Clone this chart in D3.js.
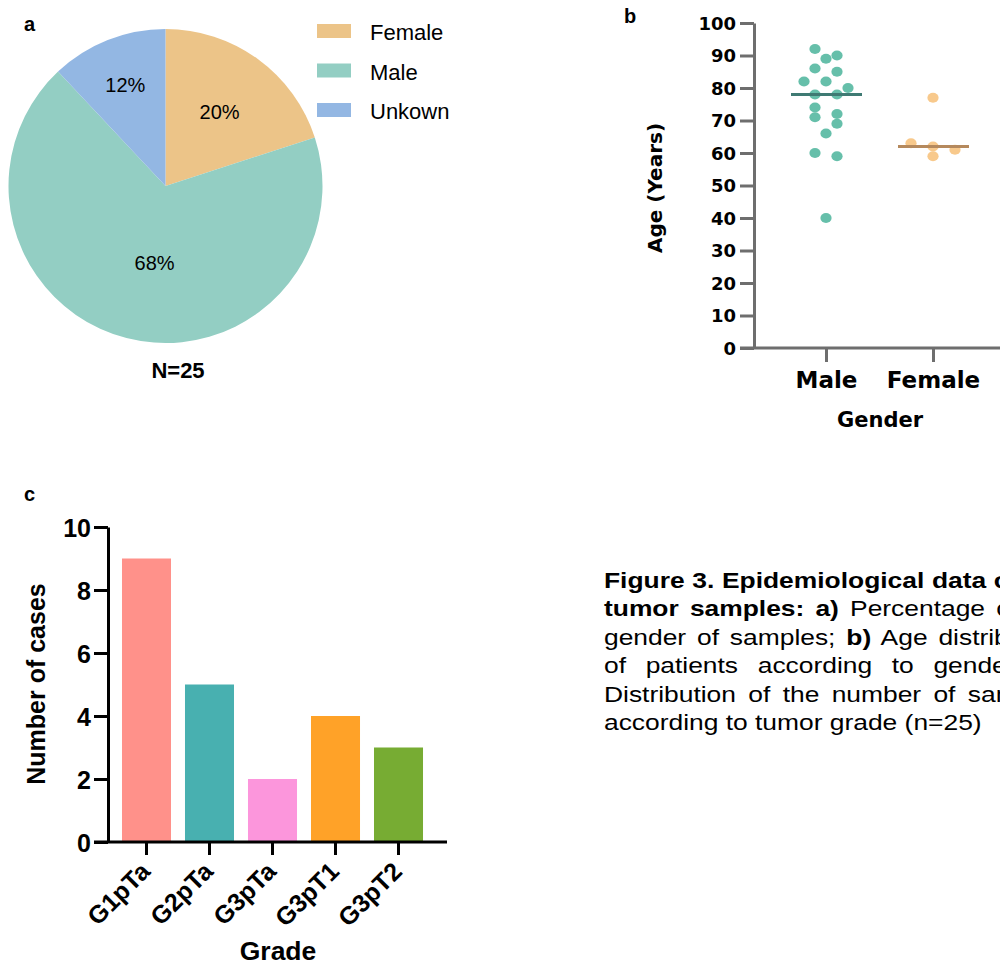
<!DOCTYPE html>
<html>
<head>
<meta charset="utf-8">
<script src="https://cdn.jsdelivr.net/npm/d3@7"></script>
<style>
  body { margin: 0; background: #fff; overflow: hidden; }
  svg { display: block; }
  text { font-family: "Liberation Sans", Arial, sans-serif; fill: #000; }
  .dv { font-family: "DejaVu Sans", sans-serif; font-weight: bold; }
</style>
</head>
<body>
<svg id="fig" width="1000" height="966"></svg>
<script>
// ---- data ----
// panel a: gender counts
const genders = ["Female", "Male", "Unkown"];
const genderCounts = [5, 17, 3];
const genderColors = ["#ecc488", "#93cec3", "#93b7e3"];

// panel b: age by gender
const ageGroups = ["Male", "Female"];
const maleAges = [92, 90, 89, 86, 85, 82, 82, 80, 78, 78, 74, 72, 71, 69, 66, 60, 59, 40];
const femaleAges = [77, 63, 62, 61, 59];
const ageTicks = [0, 10, 20, 30, 40, 50, 60, 70, 80, 90, 100];

// panel c: cases by grade
const grades = ["G1pTa", "G2pTa", "G3pTa", "G3pT1", "G3pT2"];
const gradeCases = [9, 5, 2, 4, 3];
const gradeColors = ["#ff918a", "#48b0b0", "#fc96dc", "#ffa228", "#77ac33"];

const svg = d3.select("#fig");

// ================= panel a : pie =================
svg.append("text").attr("x", 24).attr("y", 31).style("font-size", "20px").style("font-weight", "bold").text("a");

const total = d3.sum(genderCounts);
const pieData = d3.pie().sort(null).value(d => d.n)(genders.map((g, i) => ({ g, n: genderCounts[i] })));
const arc = d3.arc().innerRadius(0).outerRadius(157);
const pieG = svg.append("g").attr("transform", "translate(165.5,186)");
pieG.selectAll("path")
    .data(pieData)
    .enter().append("path")
    .attr("d", arc)
    .attr("fill", (d, i) => genderColors[i]);

// label radius / nudge per slice (layout only)
const labelR = [92, 80, 109];
const labelNudge = [0, 9, 0];
pieG.selectAll(".pl")
    .data(pieData)
    .enter().append("text")
    .attr("class", "pl")
    .attr("text-anchor", "middle")
    .style("font-size", "20px")
    .attr("x", (d, i) => d3.arc().innerRadius(labelR[i]).outerRadius(labelR[i]).centroid(d)[0] + labelNudge[i])
    .attr("y", (d, i) => d3.arc().innerRadius(labelR[i]).outerRadius(labelR[i]).centroid(d)[1] + 7)
    .text(d => Math.round(d.data.n / total * 100) + "%");

svg.append("text").attr("x", 178).attr("y", 378).attr("text-anchor", "middle")
    .style("font-size", "22px").style("font-weight", "bold").text("N=" + total);

// legend
const leg = svg.append("g");
genders.forEach((g, i) => {
    leg.append("rect").attr("x", 317).attr("y", 24 + i * 39.5).attr("width", 34).attr("height", 14).attr("fill", genderColors[i]);
    leg.append("text").attr("x", 370).attr("y", 40 + i * 39.5).style("font-size", "22px").text(g);
});

// ================= panel b : scatter =================
svg.append("text").attr("x", 624).attr("y", 23).style("font-size", "20px").style("font-weight", "bold").text("b");

const axisGrey = "#6e6e6e";
const yAge = d3.scaleLinear().domain([0, 100]).range([348, 23]);
const xAge = d3.scalePoint().domain(ageGroups).range([826, 933]);

const yAxB = svg.append("g").attr("transform", "translate(754,0)")
    .call(d3.axisLeft(yAge).tickValues(ageTicks).tickSize(14).tickSizeOuter(0).tickPadding(4));
yAxB.select(".domain").attr("stroke", axisGrey).attr("stroke-width", 3);
yAxB.selectAll(".tick line").attr("stroke", axisGrey).attr("stroke-width", 3);
yAxB.selectAll(".tick text").attr("class", "dv").style("font-size", "18px").attr("fill", "#000").attr("dy", "0.36em");

// x axis runs off the right edge
svg.append("line").attr("x1", 740).attr("x2", 1010).attr("y1", 348).attr("y2", 348)
    .attr("stroke", axisGrey).attr("stroke-width", 3);
const xAxB = svg.append("g").attr("transform", "translate(0,348)")
    .call(d3.axisBottom(xAge).tickSize(14).tickPadding(10));
xAxB.select(".domain").remove();
xAxB.selectAll(".tick line").attr("stroke", axisGrey).attr("stroke-width", 3);
xAxB.selectAll(".tick text").attr("class", "dv").style("font-size", "23px").attr("fill", "#000");

svg.append("text").attr("class", "dv").attr("x", 880).attr("y", 427).attr("text-anchor", "middle")
    .style("font-size", "21px").text("Gender");
svg.append("text").attr("class", "dv").attr("transform", "translate(662,188) rotate(-90)")
    .attr("text-anchor", "middle").style("font-size", "20px").text("Age (Years)");

// simple row-based swarm: values closer than 3 years share a row
function swarm(values) {
    const sorted = values.slice().sort((a, b) => b - a);
    const rows = [];
    sorted.forEach(v => {
        const last = rows[rows.length - 1];
        if (last && last[0] - v < 3) last.push(v); else rows.push([v]);
    });
    const out = [];
    rows.forEach(r => r.forEach((v, i) => out.push({ v, dx: (i - (r.length - 1) / 2) * 22 })));
    return out;
}

const groups = [
    { key: "Male", values: maleAges, fill: "#66bfaa", line: "#3f7a73" },
    { key: "Female", values: femaleAges, fill: "#f8c98c", line: "#b5895d" }
];
groups.forEach(gr => {
    const cx = xAge(gr.key);
    const med = d3.median(gr.values);
    svg.append("g").selectAll("ellipse")
        .data(swarm(gr.values))
        .enter().append("ellipse")
        .attr("cx", d => cx + d.dx)
        .attr("cy", d => yAge(d.v))
        .attr("rx", 5.6).attr("ry", 5)
        .attr("fill", gr.fill);
    svg.append("line")
        .attr("x1", cx - 35).attr("x2", cx + 36)
        .attr("y1", yAge(med)).attr("y2", yAge(med))
        .attr("stroke", gr.line).attr("stroke-width", 3);
});

// ================= panel c : bars =================
svg.append("text").attr("x", 24).attr("y", 501).style("font-size", "20px").style("font-weight", "bold").text("c");

const xG = d3.scaleBand().domain(grades).range([108, 437]).paddingInner(0.222).paddingOuter(0.222);
const yC = d3.scaleLinear().domain([0, 10]).range([842, 527]);

svg.append("g").selectAll("rect")
    .data(grades)
    .enter().append("rect")
    .attr("x", d => xG(d))
    .attr("width", xG.bandwidth())
    .attr("y", (d, i) => yC(gradeCases[i]))
    .attr("height", (d, i) => yC(0) - yC(gradeCases[i]))
    .attr("fill", (d, i) => gradeColors[i]);

const yAxC = svg.append("g").attr("transform", "translate(108,0)")
    .call(d3.axisLeft(yC).tickValues([0, 2, 4, 6, 8, 10]).tickSize(14).tickSizeOuter(0).tickPadding(3));
yAxC.select(".domain").attr("stroke", "#000").attr("stroke-width", 3);
yAxC.selectAll(".tick line").attr("stroke", "#000").attr("stroke-width", 3);
yAxC.selectAll(".tick text").style("font-size", "25px").style("font-weight", "bold")
    .style("font-family", "Liberation Sans, Arial, sans-serif").attr("fill", "#000").attr("dy", "0.36em");

svg.append("line").attr("x1", 94).attr("x2", 447).attr("y1", 842).attr("y2", 842)
    .attr("stroke", "#000").attr("stroke-width", 3);
const xAxC = svg.append("g").attr("transform", "translate(0,842)")
    .call(d3.axisBottom(xG).tickSize(13).tickSizeOuter(0));
xAxC.select(".domain").remove();
xAxC.selectAll(".tick line").attr("stroke", "#000").attr("stroke-width", 3);
xAxC.selectAll(".tick text")
    .style("font-size", "25px").style("font-weight", "bold")
    .style("font-family", "Liberation Sans, Arial, sans-serif").attr("fill", "#000")
    .attr("text-anchor", "end")
    .attr("dy", null)
    .attr("transform", "translate(5,31) rotate(-45)")
    .attr("y", 0);

svg.append("text").attr("x", 278).attr("y", 960).attr("text-anchor", "middle")
    .style("font-size", "26.5px").style("font-weight", "bold").text("Grade");
svg.append("text").attr("transform", "translate(45,684) rotate(-90)").attr("text-anchor", "middle")
    .style("font-size", "25px").style("font-weight", "bold").text("Number of cases");

// ================= caption =================
// the caption in the figure is a horizontally stretched, justified text box
const captionLines = [
    [["Figure 3. Epidemiological data of the", true]],
    [["tumor samples: a)", true], [" Percentage of the", false]],
    [["gender of samples; ", false], ["b)", true], [" Age distribution", false]],
    [["of patients according to gender; ", false], ["c)", true]],
    [["Distribution of the number of samples", false]],
    [["according to tumor grade (n=25)", false]]
];
const capWidth = 385;   // unstretched box width
const cap = svg.append("g").attr("transform", "translate(604,0) scale(1.2,1)");
captionLines.forEach((parts, i) => {
    const t = cap.append("text").attr("x", 0).attr("y", 588 + i * 28.4)
        .style("font-size", "22px");
    parts.forEach(p => t.append("tspan").style("font-weight", p[1] ? "bold" : "normal").text(p[0]));
    // justify all but the last line by widening the word gaps
    if (i < captionLines.length - 1) {
        const gaps = parts.map(p => p[0]).join("").trim().split(/\s+/).length - 1;
        const extra = (capWidth - t.node().getComputedTextLength()) / gaps;
        if (extra > 0) t.attr("word-spacing", extra);
    }
});
</script>
</body>
</html>
